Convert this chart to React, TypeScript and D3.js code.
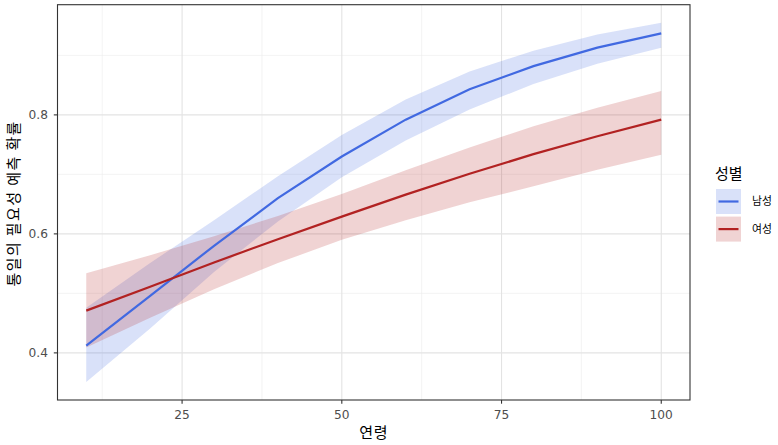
import React, { useEffect, useRef } from "react";
import * as d3 from "d3";

const ages = [10, 20, 30, 40, 50, 60, 70, 80, 90, 100];
const maleFit = [0.412, 0.496, 0.580, 0.660, 0.730, 0.792, 0.843, 0.882, 0.913, 0.937];
const maleLow = [0.351, 0.441, 0.536, 0.621, 0.695, 0.757, 0.809, 0.852, 0.886, 0.913];
const maleHigh = [0.476, 0.551, 0.623, 0.697, 0.766, 0.826, 0.873, 0.908, 0.935, 0.955];
const femaleFit = [0.471, 0.511, 0.552, 0.591, 0.629, 0.666, 0.701, 0.734, 0.764, 0.792];
const femaleLow = [0.409, 0.459, 0.507, 0.551, 0.590, 0.623, 0.653, 0.680, 0.708, 0.733];
const femaleHigh = [0.534, 0.564, 0.596, 0.630, 0.667, 0.707, 0.745, 0.781, 0.812, 0.840];
const groups = ["남성", "여성"];
const xTicks = [25, 50, 75, 100];
const yTicks = [0.4, 0.6, 0.8];
const xMinor = [12.5, 37.5, 62.5, 87.5];
const yMinor = [0.3, 0.5, 0.7, 0.9];

const W = 778, H = 445;
const L = 57.5, R = 690, T = 4.7, B = 400;
const FONT = "'Noto Sans CJK KR', 'Noto Sans', sans-serif";
const NUMFONT = "'DejaVu Sans', sans-serif";

export default function App() {
  const ref = useRef<SVGSVGElement>(null);
  useEffect(() => {
    const svg = d3.select(ref.current);
    svg.selectAll("*").remove();
    const yAll = [...maleLow, ...maleHigh, ...femaleLow, ...femaleHigh];
    const yMin = d3.min(yAll)!, yMax = d3.max(yAll)!;
    const yPad = (yMax - yMin) * 0.05;
    const xPad = (100 - 10) * 0.05;
    const x = d3.scaleLinear().domain([10 - xPad, 100 + xPad]).range([L, R]);
    const y = d3.scaleLinear().domain([yMin - yPad, yMax + yPad]).range([B, T]);

    svg.append("rect").attr("width", W).attr("height", H).attr("fill", "white");
    const g = svg.append("g");
    // grid
    g.selectAll(".xmin").data(xMinor).join("line")
      .attr("x1", d => x(d)).attr("x2", d => x(d)).attr("y1", T).attr("y2", B)
      .attr("stroke", "#ebebeb").attr("stroke-width", 0.6);
    g.selectAll(".ymin").data(yMinor.filter(v => y(v) > T && y(v) < B)).join("line")
      .attr("x1", L).attr("x2", R).attr("y1", d => y(d)).attr("y2", d => y(d))
      .attr("stroke", "#ebebeb").attr("stroke-width", 0.6);
    g.selectAll(".xmaj").data(xTicks).join("line")
      .attr("x1", d => x(d)).attr("x2", d => x(d)).attr("y1", T).attr("y2", B)
      .attr("stroke", "#e3e3e3").attr("stroke-width", 1.1);
    g.selectAll(".ymaj").data(yTicks).join("line")
      .attr("x1", L).attr("x2", R).attr("y1", d => y(d)).attr("y2", d => y(d))
      .attr("stroke", "#e3e3e3").attr("stroke-width", 1.1);

    const series = [
      { name: groups[0], fit: maleFit, lo: maleLow, hi: maleHigh, color: "#4169E1" },
      { name: groups[1], fit: femaleFit, lo: femaleLow, hi: femaleHigh, color: "#B22222" },
    ];
    const area = d3.area<number>()
      .x((_, i) => x(ages[i]));
    series.forEach(s => {
      g.append("path")
        .attr("d", area.y0((_, i) => y(s.lo[i])).y1((_, i) => y(s.hi[i]))(ages)!)
        .attr("fill", s.color).attr("fill-opacity", 0.2);
    });
    const line = d3.line<number>().x((_, i) => x(ages[i]));
    series.forEach(s => {
      g.append("path")
        .attr("d", line.y((_, i) => y(s.fit[i]))(ages)!)
        .attr("fill", "none").attr("stroke", s.color).attr("stroke-width", 2.2);
    });

    // border
    g.append("rect").attr("x", L).attr("y", T).attr("width", R - L).attr("height", B - T)
      .attr("fill", "none").attr("stroke", "#333333").attr("stroke-width", 1.1);

    // ticks
    g.selectAll(".xt").data(xTicks).join("line")
      .attr("x1", d => x(d)).attr("x2", d => x(d)).attr("y1", B).attr("y2", B + 3.7)
      .attr("stroke", "#333333").attr("stroke-width", 1.1);
    g.selectAll(".xl").data(xTicks).join("text")
      .attr("x", d => x(d)).attr("y", B + 18.5).attr("text-anchor", "middle")
      .attr("font-family", NUMFONT).attr("font-size", 12.2).attr("fill", "#4d4d4d")
      .text(d => String(d));
    g.selectAll(".yt").data(yTicks).join("line")
      .attr("x1", L - 3.7).attr("x2", L).attr("y1", d => y(d)).attr("y2", d => y(d))
      .attr("stroke", "#333333").attr("stroke-width", 1.1);
    g.selectAll(".yl").data(yTicks).join("text")
      .attr("x", L - 9.5).attr("y", d => y(d)).attr("dy", "0.36em").attr("text-anchor", "end")
      .attr("font-family", NUMFONT).attr("font-size", 12.2).attr("fill", "#4d4d4d")
      .text(d => d3.format(".1f")(d));

    // axis titles
    svg.append("text").attr("x", (L + R) / 2).attr("y", 438).attr("text-anchor", "middle")
      .attr("font-family", FONT).attr("font-size", 15).attr("letter-spacing", 0.8)
      .attr("fill", "black").text("연령");
    svg.append("text").attr("transform", `translate(19,${(T + B) / 2 + 1}) rotate(-90)`)
      .attr("text-anchor", "middle")
      .attr("font-family", FONT).attr("font-size", 15).attr("letter-spacing", 1.4)
      .attr("fill", "black")
      .text("통일의 필요성 예측 확률");

    // legend
    const lg = svg.append("g");
    lg.append("text").attr("x", 715).attr("y", 179).attr("font-family", FONT)
      .attr("font-size", 15).attr("fill", "black").text("성별");
    series.forEach((s, i) => {
      const ky = 189 + i * 27.6;
      lg.append("rect").attr("x", 716).attr("y", ky).attr("width", 25).attr("height", 25)
        .attr("fill", "white");
      lg.append("rect").attr("x", 716).attr("y", ky).attr("width", 25).attr("height", 25)
        .attr("fill", s.color).attr("fill-opacity", 0.2);
      lg.append("line").attr("x1", 718.5).attr("x2", 738.5).attr("y1", ky + 12.5).attr("y2", ky + 12.5)
        .attr("stroke", s.color).attr("stroke-width", 2.2);
      lg.append("text").attr("x", 752).attr("y", ky + 12.5).attr("dy", "0.36em")
        .attr("font-family", FONT).attr("font-size", 10.8).attr("fill", "black").text(s.name);
    });
  }, []);
  return (
    <svg ref={ref} width={W} height={H}
      style={{ position: "absolute", left: 0, top: 0, display: "block" }} />
  );
}
